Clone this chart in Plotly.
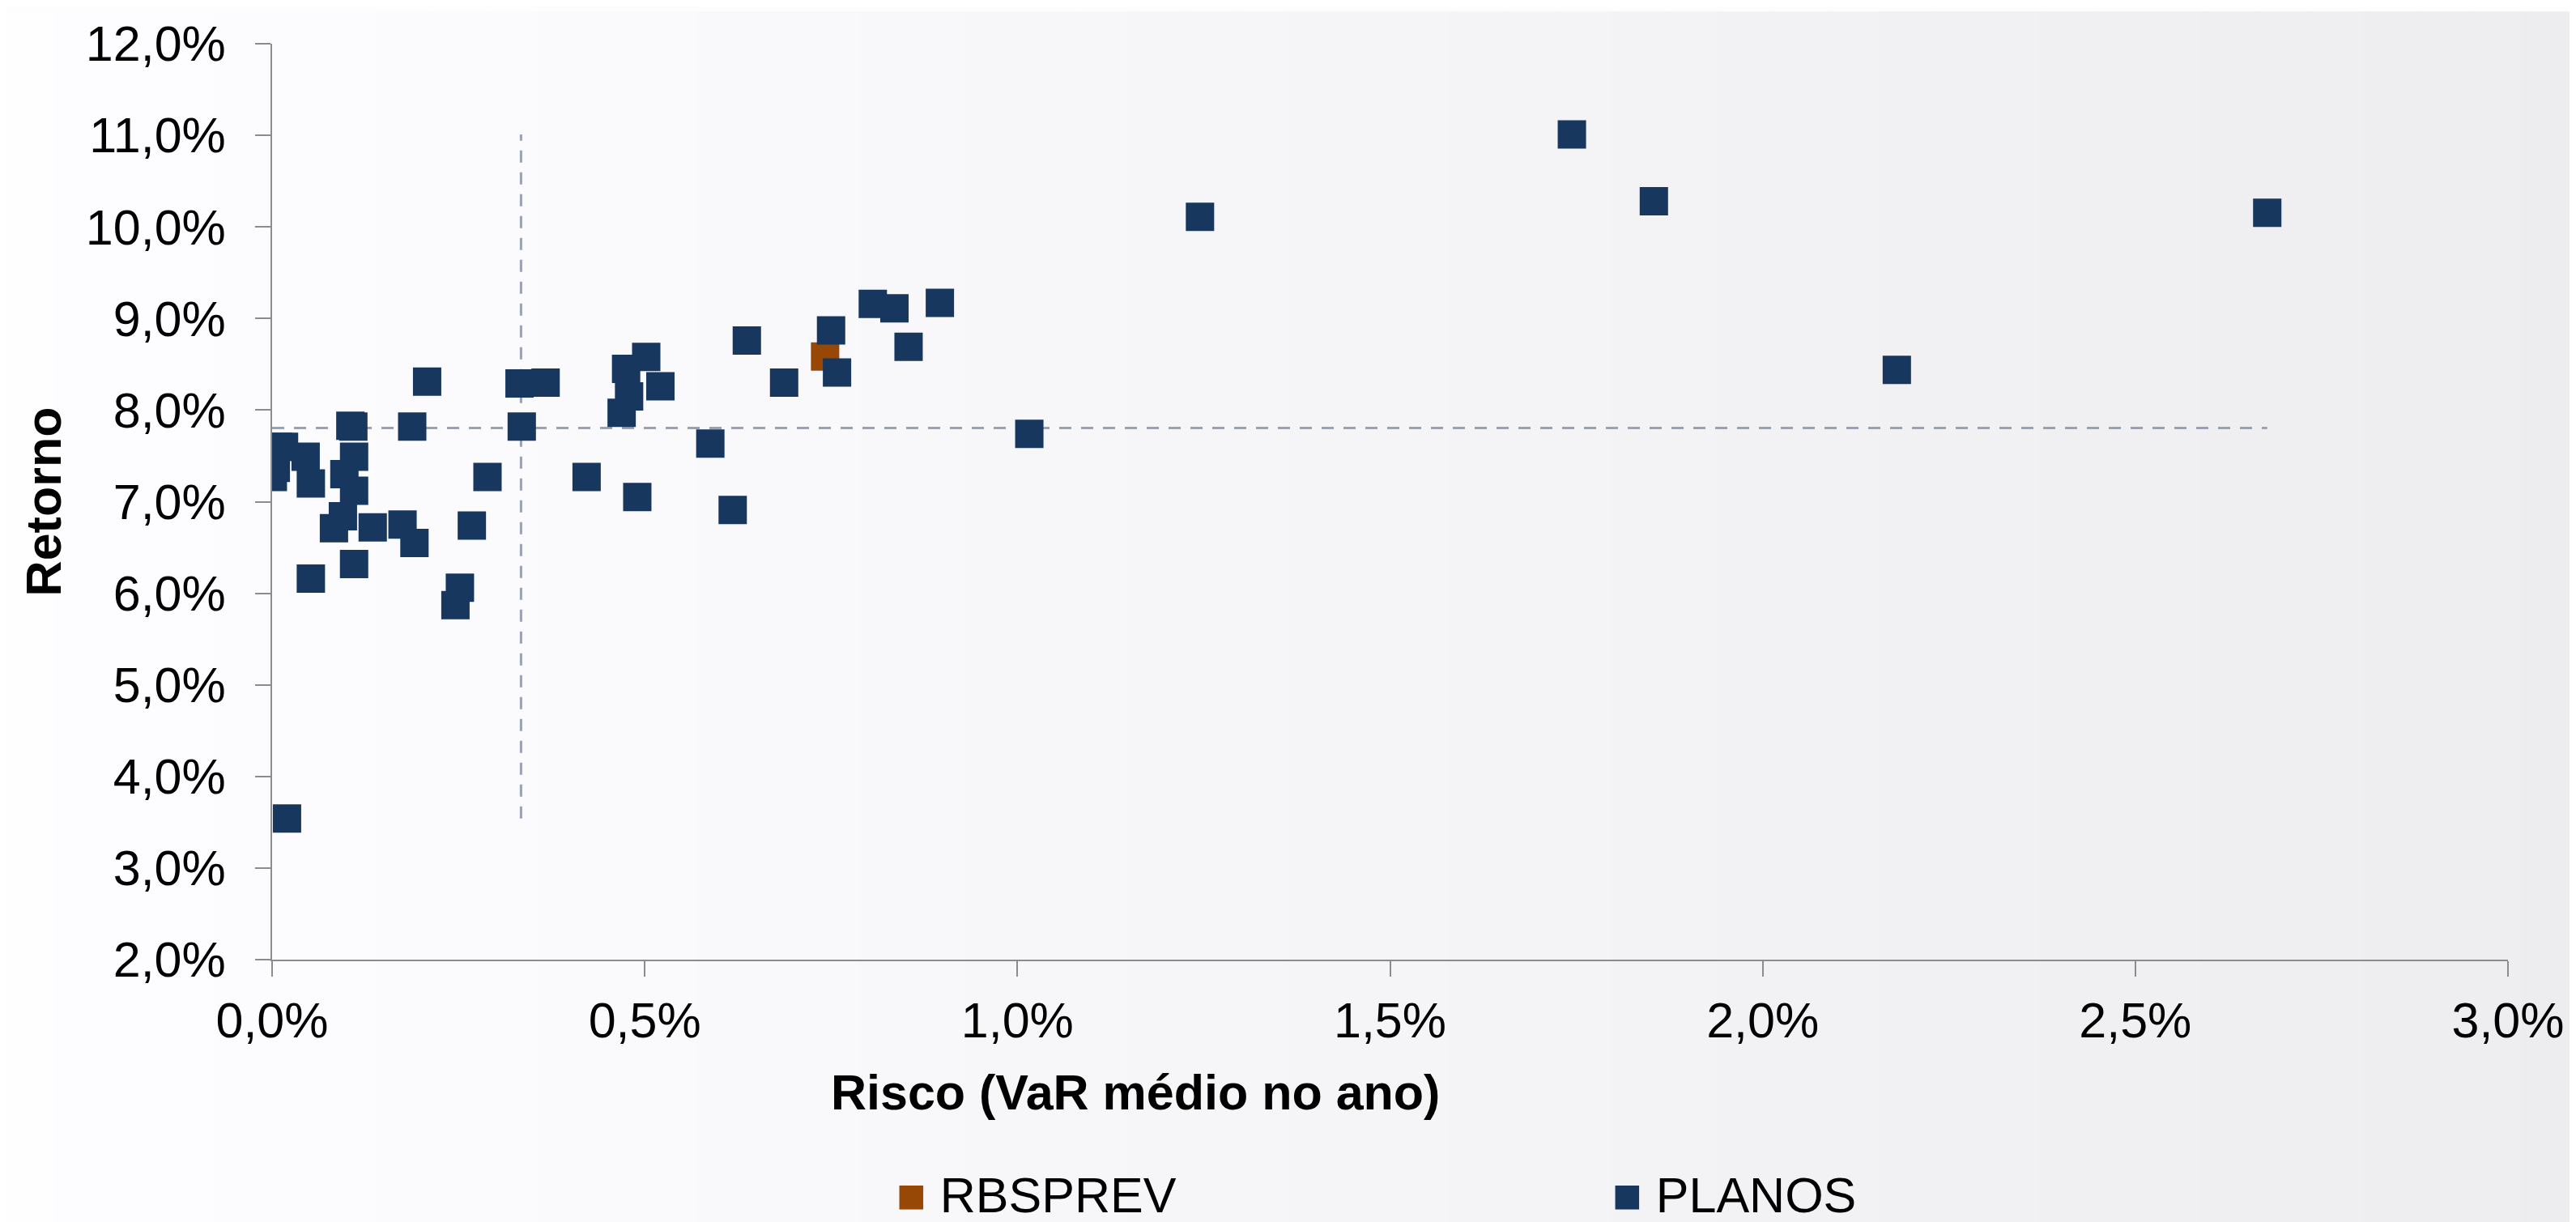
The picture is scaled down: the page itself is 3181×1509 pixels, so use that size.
import plotly.graph_objects as go

# Risco (VaR médio no ano, em %) e Retorno (em %) de cada plano
risco_planos = [
    0.208, 0.332, 0.367, 0.475, 0.502, 0.479, 0.469, 0.521, 0.188, 0.335,
    0.105, 0.109, 0.110, 0.097, 0.110, 0.095, 0.083, 0.135, 0.175, 0.191,
    0.268, 0.052, 0.110, 0.252, 0.246, 0.289, 0.422, 0.490, 0.008, 0.016,
    0.045, 0.005, 0.001, 0.052, 0.637, 0.687, 0.750, 0.758, 0.806, 0.835,
    0.896, 0.854, 1.016, 0.588, 0.618, 0.020, 1.245, 1.744, 1.854, 2.180,
    2.677,
]
retorno_planos = [
    8.31, 8.29, 8.30, 8.45, 8.58, 8.15, 7.97, 8.26, 7.82, 7.82,
    7.83, 7.82, 7.49, 7.30, 7.12, 6.84, 6.71, 6.72, 6.75, 6.55,
    6.74, 6.16, 6.32, 6.06, 5.87, 7.27, 7.27, 7.05, 7.60, 7.60,
    7.49, 7.37, 7.27, 7.20, 8.76, 8.30, 8.87, 8.41, 9.16, 9.11,
    9.17, 8.69, 7.74, 7.635, 6.91, 3.54, 10.11, 11.01, 10.28, 8.44,
    10.155,
]
risco_rbsprev = [0.742]
retorno_rbsprev = [8.585]

# linhas de referência (medianas)
mediana_risco = 0.334
mediana_retorno = 7.805

x_ticks = [0.0, 0.5, 1.0, 1.5, 2.0, 2.5, 3.0]
y_ticks = [2, 3, 4, 5, 6, 7, 8, 9, 10, 11, 12]


def pct(v):
    return f"{v:.1f}%".replace(".", ",")


W, H = 3181, 1509
OFF = 8  # margem do body da página
ML, MR, MT, MB = 328, 92, 40, 332
PW, PH = W - ML - MR, H - MT - MB

FONT = "Liberation Sans, Arial, sans-serif"
NAVY = "#17375e"
ORANGE = "#974706"
REF = "#97a2b5"
AXIS = "#8c8c8c"


def px_x(p):
    # posição em pixels da página -> coordenada paper
    return (p - OFF - ML) / PW


def px_y(p):
    return 1 - (p - OFF - MT) / PH


fig = go.Figure()

todos_ret = retorno_planos + retorno_rbsprev
todos_risco = risco_planos + risco_rbsprev

fig.add_trace(go.Scatter(
    x=[mediana_risco, mediana_risco], y=[min(todos_ret), max(todos_ret)],
    mode="lines", line=dict(color=REF, width=3, dash="15px,12px"),
    showlegend=False, hoverinfo="skip",
))
fig.add_trace(go.Scatter(
    x=[0, max(todos_risco)], y=[mediana_retorno, mediana_retorno],
    mode="lines", line=dict(color=REF, width=3, dash="15px,12px"),
    showlegend=False, hoverinfo="skip",
))
fig.add_trace(go.Scatter(
    x=risco_rbsprev, y=retorno_rbsprev, mode="markers", name="RBSPREV",
    marker=dict(symbol="square", size=35, color=ORANGE),
    showlegend=False,
))
fig.add_trace(go.Scatter(
    x=risco_planos, y=retorno_planos, mode="markers", name="PLANOS",
    marker=dict(symbol="square", size=35, color=NAVY),
    showlegend=False,
))

# fundo em degradê horizontal (branco -> cinza claro)
shapes = []
n = 48
for i in range(n):
    x0 = W * i / n
    x1 = W * (i + 1) / n + 1
    t = (i + 0.5) / n
    c = round(254 - 17 * t)
    shapes.append(dict(
        type="rect", xref="paper", yref="paper",
        x0=px_x(x0), x1=px_x(x1 + OFF), y0=px_y(H + OFF), y1=px_y(OFF),
        fillcolor=f"rgb({c},{c},{min(255, c + 2)})", line=dict(width=0),
        layer="below",
    ))

axis_common = dict(
    showgrid=False, zeroline=False, showline=True, linecolor=AXIS, linewidth=2,
    ticks="outside", ticklen=19, tickwidth=2, tickcolor=AXIS,
    tickfont=dict(family=FONT, size=61, color="black"),
)

fig.update_xaxes(range=[0, 3], tickvals=x_ticks, ticktext=[pct(v) for v in x_ticks],
                 ticklabelstandoff=2, **axis_common)
fig.update_yaxes(
    range=[2, 12], tickvals=y_ticks, ticktext=[pct(v) for v in y_ticks],
    ticklabelstandoff=24,
    title=dict(text="<b>Retorno</b>", font=dict(family=FONT, size=61, color="black"),
               standoff=10),
    **axis_common,
)

annotations = [
    dict(text="<b>Risco (VaR médio no ano)</b>", xref="paper", yref="paper",
         x=px_x(1402), y=px_y(1350), xanchor="center", yanchor="middle",
         showarrow=False, font=dict(family=FONT, size=61, color="black")),
    dict(text=f'<span style="color:{ORANGE}">■</span> RBSPREV', xref="paper", yref="paper",
         x=px_x(1105), y=px_y(1478), xanchor="left", yanchor="middle",
         showarrow=False, font=dict(family=FONT, size=61, color="black")),
    dict(text=f'<span style="color:{NAVY}">■</span> PLANOS', xref="paper", yref="paper",
         x=px_x(1989), y=px_y(1478), xanchor="left", yanchor="middle",
         showarrow=False, font=dict(family=FONT, size=61, color="black")),
]

fig.update_layout(
    width=W, height=H,
    margin=dict(l=ML, r=MR, t=MT, b=MB),
    paper_bgcolor="#fdfdfd", plot_bgcolor="rgba(0,0,0,0)",
    font=dict(family=FONT, color="black"),
    shapes=shapes, annotations=annotations,
    showlegend=False,
)

fig.write_html("out.html")
